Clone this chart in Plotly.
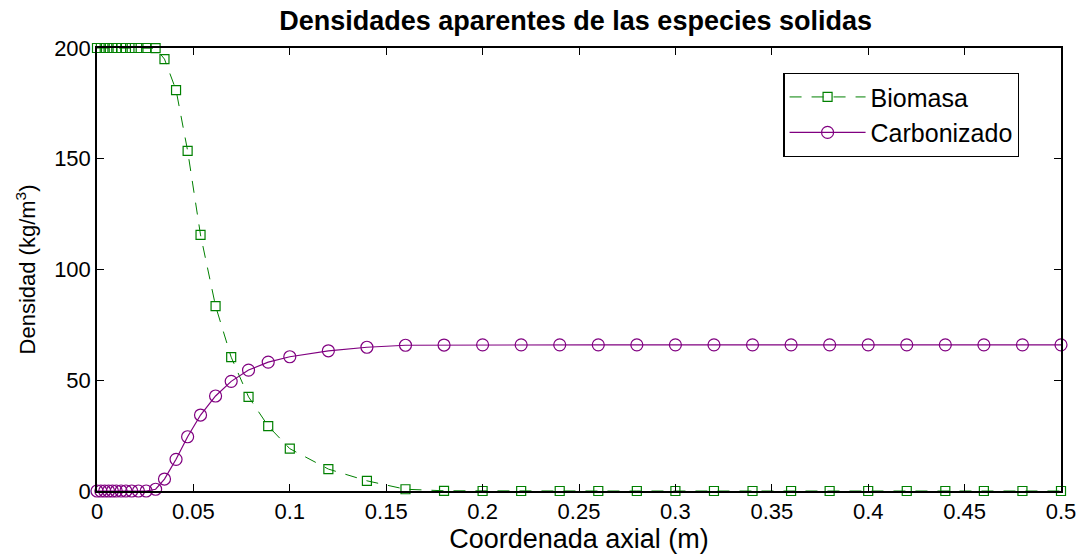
import plotly.graph_objects as go

# Axial coordinate grid (m)
x_axial = [0, 0.002, 0.004, 0.006, 0.008, 0.010, 0.0125, 0.015, 0.018, 0.0215, 0.0255,
           0.0304, 0.035, 0.041, 0.047, 0.0537, 0.0615, 0.0696, 0.0786, 0.0888, 0.1,
           0.12, 0.14, 0.16, 0.18, 0.20, 0.22, 0.24, 0.26, 0.28, 0.30, 0.32, 0.34,
           0.36, 0.38, 0.40, 0.42, 0.44, 0.46, 0.48, 0.50]

# Biomass apparent density (kg/m3)
biomasa = [200, 200, 200, 200, 200, 200, 200, 200, 200, 200, 200,
           199.9, 195.0, 181.0, 153.6, 115.6, 83.5, 60.4, 42.5, 29.3, 19.1,
           9.9, 4.6, 0.8, 0.1, 0, 0, 0, 0, 0, 0, 0, 0,
           0, 0, 0, 0, 0, 0, 0, 0]

# Char apparent density (kg/m3)
carbonizado = [0, 0, 0, 0, 0, 0, 0, 0, 0, 0, 0,
               0.8, 5.4, 14.3, 24.5, 34.3, 42.9, 49.5, 54.6, 58.2, 60.6,
               63.3, 64.9, 65.8, 65.9, 66, 66, 66, 66, 66, 66, 66, 66,
               66, 66, 66, 66, 66, 66, 66, 66]

x_ticks = [0, 0.05, 0.1, 0.15, 0.2, 0.25, 0.3, 0.35, 0.4, 0.45, 0.5]
x_ticklabels = ["0", "0.05", "0.1", "0.15", "0.2", "0.25", "0.3", "0.35", "0.4", "0.45", "0.5"]
y_ticks = [0, 50, 100, 150, 200]

FONT = "Liberation Sans, Arial, sans-serif"
GREEN = "#008000"
PURPLE = "#800080"

fig = go.Figure()
fig.add_trace(go.Scatter(
    x=x_axial, y=biomasa, name="Biomasa", mode="lines+markers",
    line=dict(color=GREEN, width=1, dash="12px,10px"),
    marker=dict(symbol="square-open", size=9, color=GREEN, line=dict(width=1.2, color=GREEN)),
    cliponaxis=False,
))
fig.add_trace(go.Scatter(
    x=x_axial, y=carbonizado, name="Carbonizado", mode="lines+markers",
    line=dict(color=PURPLE, width=1.2),
    marker=dict(symbol="circle-open", size=12, color=PURPLE, line=dict(width=1.2, color=PURPLE)),
    cliponaxis=False,
))

axis_common = dict(
    showline=True, linecolor="black", linewidth=1.5, mirror="ticks",
    ticks="inside", ticklen=7, tickwidth=1, tickcolor="black",
    showgrid=False, zeroline=False, automargin=False,
    tickfont=dict(family=FONT, size=22, color="black"),
)

fig.update_layout(
    width=1084, height=558,
    margin=dict(l=97, r=23, t=48, b=67),
    paper_bgcolor="white", plot_bgcolor="white",
    title=dict(text="<b>Densidades aparentes de las especies solidas</b>",
               font=dict(family=FONT, size=27, color="black"),
               x=0.531, xanchor="center", y=0.964, yanchor="middle"),
    xaxis=dict(range=[0, 0.5], tickvals=x_ticks, ticktext=x_ticklabels,
               title=dict(text="Coordenada axial (m)", font=dict(family=FONT, size=27, color="black"),
                          standoff=2),
               **axis_common),
    yaxis=dict(range=[0, 200], tickvals=y_ticks,
               title=dict(text="Densidad (kg/m<sup>3</sup>)", font=dict(family=FONT, size=22, color="black"),
                          standoff=12),
               **axis_common),
    legend=dict(x=0.712, y=0.9436, xanchor="left", yanchor="top",
                bgcolor="white", bordercolor="black", borderwidth=1.2,
                font=dict(family=FONT, size=25, color="black"),
                itemwidth=76, tracegroupgap=2),
    showlegend=True,
)

# Remove the default page body margin so the figure fills the window exactly.
fig.write_html("out.html", config={"displayModeBar": False},
               post_script="document.body.style.margin='0';")
